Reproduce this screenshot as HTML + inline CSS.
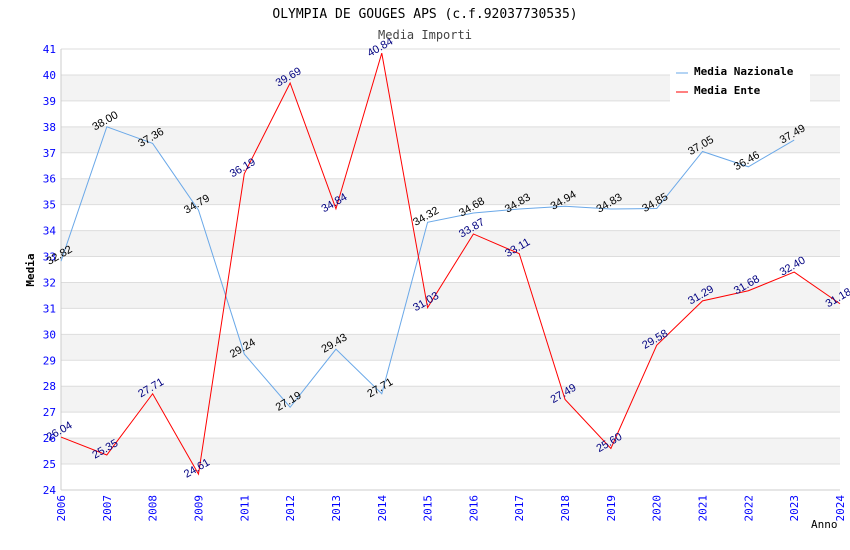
<!DOCTYPE html>
<html><head><meta charset="utf-8"><style>
body{margin:0;background:#fff;}
svg{display:block;font-family:"DejaVu Sans Mono","Liberation Mono",monospace;}
</style></head><body>
<svg id="c" width="850" height="550"></svg>
<script>
const years=["2006","2007","2008","2009","2011","2012","2013","2014","2015","2016","2017","2018","2019","2020","2021","2022","2023","2024"];
const nazionale=[32.82,38.00,37.36,34.79,29.24,27.19,29.43,27.71,34.32,34.68,34.83,34.94,34.83,34.85,37.05,36.46,37.49,null];
const ente=[26.04,25.35,27.71,24.61,36.19,39.69,34.84,40.84,31.03,33.87,33.11,27.49,25.60,29.58,31.29,31.68,32.40,31.18];
const yTicks=[24,25,26,27,28,29,30,31,32,33,34,35,36,37,38,39,40,41];
const svg=document.getElementById('c');const NS='http://www.w3.org/2000/svg';
const X0=61,X1=840,Y0=490,Y1=49,ymin=24,ymax=41;
const xs=i=>X0+(X1-X0)*i/(years.length-1);
const ys=v=>Y0-(v-ymin)*(Y0-Y1)/(ymax-ymin);
function mk(t,a,p){const e=document.createElementNS(NS,t);for(const k in a)e.setAttribute(k,a[k]);(p||svg).appendChild(e);return e;}
for(let v=ymin;v<ymax;v++){
  if(v%2===1){const r=mk('rect',{x:X0,y:ys(v+1),width:X1-X0,height:ys(v)-ys(v+1),fill:'#f3f3f3'});
  
  }
}
yTicks.forEach(v=>{const l=mk('line',{x1:X0,x2:X1,y1:ys(v),y2:ys(v),stroke:'#dddddd'});


const t=mk('text',{x:X0-5,y:ys(v)+4,'text-anchor':'end','font-size':11,fill:'#0000ff'});t.textContent=v;

});
mk('line',{x1:X0,x2:X0,y1:Y1,y2:Y0,stroke:'#ccc'});
mk('line',{x1:X0,x2:X1,y1:Y0,y2:Y0,stroke:'#ccc'});
years.forEach((y,i)=>{const t=mk('text',{transform:`translate(${xs(i)+4},${Y0+5}) rotate(-90)`,'text-anchor':'end','font-size':11,fill:'#0000ff'});t.textContent=y;

});
function series(arr,color,lab,name){
  let d='';arr.forEach((v,i)=>{if(v==null)return;d+=(d?'L':'M')+xs(i)+','+ys(v);});
  const p=mk('path',{d,fill:'none',stroke:color,'stroke-width':1});
  
  
  arr.forEach((v,i)=>{if(v==null)return;const t=mk('text',{transform:`translate(${xs(i)},${ys(v)-3}) rotate(-30)`,'text-anchor':'middle','font-size':11,fill:lab,'font-family':'Liberation Sans,sans-serif'});t.textContent=v.toFixed(2);
  
  });
}
series(nazionale,'#6aa8e8','#000','media-nazionale');
series(ente,'#ff0000','#000080','media-ente');
const title=mk('text',{x:425,y:18,'text-anchor':'middle','font-size':13,fill:'#000'});title.textContent='OLYMPIA DE GOUGES APS (c.f.92037730535)';


const sub=mk('text',{x:425,y:39,'text-anchor':'middle','font-size':12,fill:'#444'});sub.textContent='Media Importi';


const yt=mk('text',{transform:'translate(34,270) rotate(-90)','text-anchor':'middle','font-size':11,'font-weight':'bold',fill:'#000'});yt.textContent='Media';


const xt=mk('text',{x:811,y:528,'font-size':11,fill:'#000'});xt.textContent='Anno';


const lg=mk('g',{});


mk('rect',{x:670,y:60,width:140,height:42,fill:'#fff'},lg);
[['Media Nazionale','#6aa8e8'],['Media Ente','#ff0000']].forEach((e,i)=>{
  const g=mk('g',{},lg);
  
  
  mk('line',{x1:676,x2:688,y1:73+i*19,y2:73+i*19,stroke:e[1]},g);
  const t=mk('text',{x:694,y:75+i*19,'font-size':11,'font-weight':'bold',fill:'#000'},g);t.textContent=e[0];
});
</script>
</body></html>
